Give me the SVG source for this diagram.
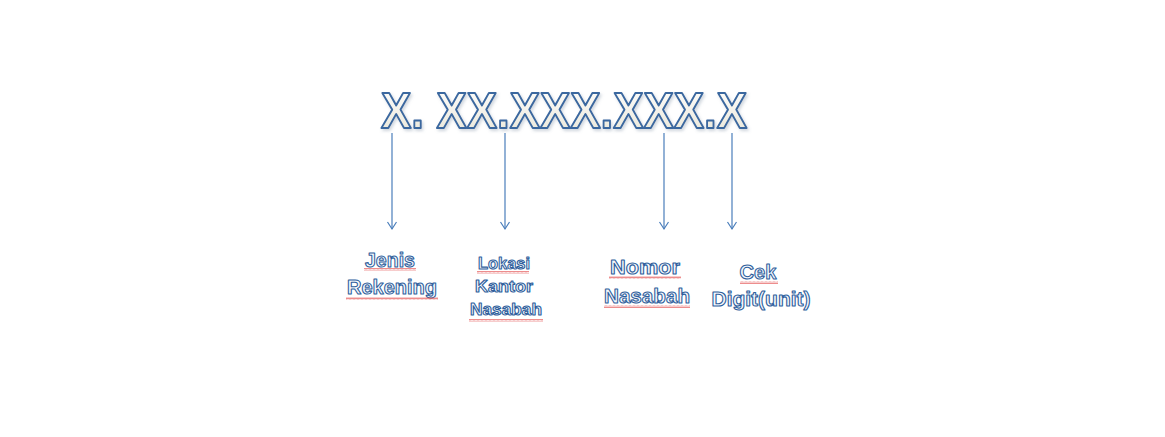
<svg xmlns="http://www.w3.org/2000/svg" width="1165" height="437" viewBox="0 0 1165 437">
<style>
.big{font-family:"Liberation Sans",Arial,sans-serif;font-weight:bold;font-size:50px;fill:url(#g);stroke:#3a679f;stroke-width:2px;stroke-linejoin:round}
.lbl{font-family:"Liberation Sans",Arial,sans-serif;font-weight:bold;fill:#f6f8fc;stroke:#2f5f9c;stroke-width:1.1px;stroke-linejoin:round;text-anchor:middle}
.arr{stroke:#4a7ebb;stroke-width:1.2;fill:none}
</style>
<defs>
<linearGradient id="g" x1="0" y1="0" x2="0" y2="1">
<stop offset="0" stop-color="#ffffff"/>
<stop offset="1" stop-color="#e8e5d6"/>
</linearGradient>
<filter id="sh" x="-5%" y="-20%" width="110%" height="150%">
<feDropShadow dx="1.5" dy="2" stdDeviation="1.5" flood-color="#7a8aa0" flood-opacity="0.35"/>
</filter>
<marker id="ah" markerWidth="12" markerHeight="12" refX="8" refY="5" orient="auto" markerUnits="userSpaceOnUse">
<path d="M1,0.5 L8,5 L1,9.5" stroke="#4a7ebb" stroke-width="1.2" fill="none"/>
</marker>
<pattern id="wave" width="4" height="3" patternUnits="userSpaceOnUse">
<path d="M0,2.5 L1,0.5 L2,2.5 L3,0.5 L4,2.5" stroke="#e04040" stroke-width="0.6" fill="none"/>
</pattern>
</defs>
<rect width="1165" height="437" fill="#ffffff"/>
<g id="code">
<text class="big" x="381" y="128" textLength="366" lengthAdjust="spacingAndGlyphs" filter="url(#sh)">X. XX.XXX.XXX.X</text>
</g>
<g id="connectors">
<line class="arr" x1="392" y1="133" x2="392" y2="229" marker-end="url(#ah)"/>
<line class="arr" x1="505" y1="133" x2="505" y2="229" marker-end="url(#ah)"/>
<line class="arr" x1="664" y1="133" x2="664" y2="229" marker-end="url(#ah)"/>
<line class="arr" x1="732" y1="133" x2="732" y2="229" marker-end="url(#ah)"/>
</g>
<g id="jenis-rekening">
<text class="lbl" font-size="21" x="390" y="267" textLength="50" lengthAdjust="spacingAndGlyphs">Jenis</text>
<text class="lbl" font-size="21" x="392" y="294" textLength="90" lengthAdjust="spacingAndGlyphs">Rekening</text>
<rect x="364" y="268" width="52" height="3" fill="url(#wave)"/>
<rect x="346" y="297" width="92" height="3" fill="url(#wave)"/>
</g>
<g id="lokasi-kantor-nasabah">
<text class="lbl" font-size="17" x="504" y="269" textLength="52" lengthAdjust="spacingAndGlyphs">Lokasi</text>
<text class="lbl" font-size="17" x="504" y="292" textLength="58" lengthAdjust="spacingAndGlyphs">Kantor</text>
<text class="lbl" font-size="17" x="506" y="315" textLength="72" lengthAdjust="spacingAndGlyphs">Nasabah</text>
<rect x="477" y="271" width="52" height="3" fill="url(#wave)"/>
<rect x="469" y="319" width="74" height="3" fill="url(#wave)"/>
</g>
<g id="nomor-nasabah">
<text class="lbl" font-size="21" x="645" y="274" textLength="70" lengthAdjust="spacingAndGlyphs">Nomor</text>
<text class="lbl" font-size="21" x="647" y="303" textLength="86" lengthAdjust="spacingAndGlyphs">Nasabah</text>
<rect x="609" y="276" width="72" height="3" fill="url(#wave)"/>
<rect x="604" y="305" width="86" height="3" fill="url(#wave)"/>
</g>
<g id="cek-digit">
<text class="lbl" font-size="21" x="758" y="279" textLength="37" lengthAdjust="spacingAndGlyphs">Cek</text>
<text class="lbl" font-size="21" x="761" y="306" textLength="99" lengthAdjust="spacingAndGlyphs">Digit(unit)</text>
<rect x="740" y="281" width="38" height="3" fill="url(#wave)"/>
</g>
</svg>
